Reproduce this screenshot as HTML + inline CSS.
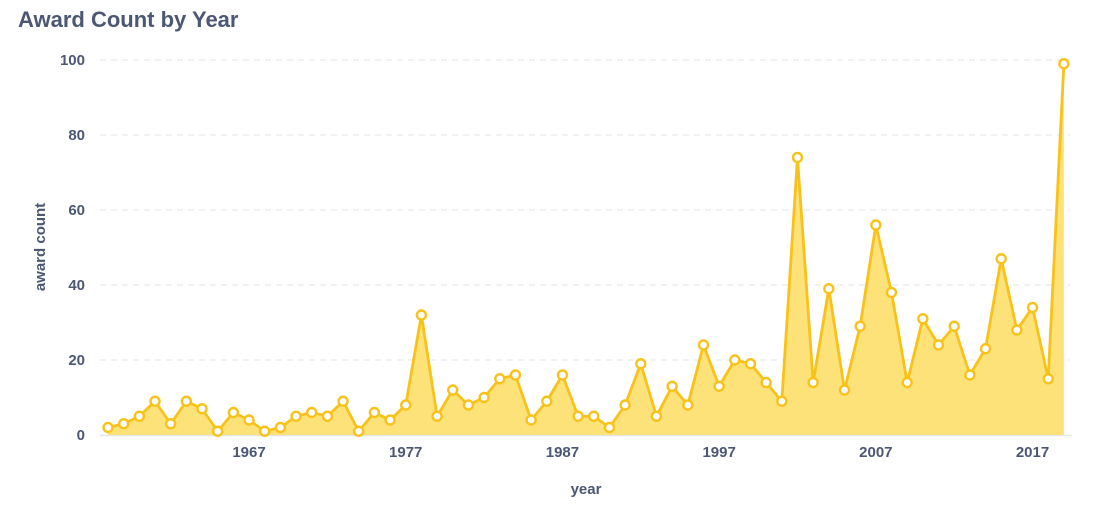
<!DOCTYPE html>
<html><head><meta charset="utf-8"><style>
body{margin:0;background:#fff;font-family:"Liberation Sans",sans-serif;}
svg text{font-family:"Liberation Sans",sans-serif;fill:#4c5773;font-weight:bold;}
</style></head><body>
<svg id="chart" width="1104" height="506">
<text x="18" y="27" font-size="22">Award Count by Year</text>
<g id="grid"></g><g id="area"></g><g id="pts"></g><g id="ticks"></g>
<text x="586" y="494" font-size="15" text-anchor="middle">year</text>
<text transform="translate(45,247) rotate(-90)" font-size="15" text-anchor="middle">award count</text>
</svg>
<script>
const years=[];for(let y=1958;y<=2019;y++)years.push(y);
const counts=[2,3,5,9,3,9,7,1,6,4,1,2,5,6,5,9,1,6,4,8,32,5,12,8,10,15,16,4,9,16,5,5,2,8,19,5,13,8,24,13,20,19,14,9,74,14,39,12,29,56,38,14,31,24,29,16,23,47,28,34,15,99];
const yTicks=[0,20,40,60,80,100];
const xTicks=[1967,1977,1987,1997,2007,2017];
const NS="http://www.w3.org/2000/svg";
const x=v=>108+(v-1958)*15.67;
const y=v=>435-v*3.75;
function mk(t,a,p){const e=document.createElementNS(NS,t);for(const k in a)e.setAttribute(k,a[k]);p.appendChild(e);return e;}
const grid=document.getElementById('grid'),ticks=document.getElementById('ticks');
yTicks.forEach(t=>{
 if(t>0){const l=mk('line',{x1:100,x2:1070,y1:y(t),y2:y(t),stroke:'#e3e5e8','stroke-dasharray':'6 5'},grid);
 
 }
 const tx=mk('text',{x:85,y:y(t)+5,'font-size':15,'text-anchor':'end'},ticks);tx.textContent=t;
 
 
});
const ax=mk('line',{x1:100,x2:1072,y1:435.5,y2:435.5,stroke:'#e3e5e8','stroke-width':1.5},grid);


xTicks.forEach(t=>{
 const tx=mk('text',{x:x(t),y:457,'font-size':15,'text-anchor':'middle'},ticks);tx.textContent=t;
 
 
});
let d='';years.forEach((yr,i)=>{d+=(i?'L':'M')+x(yr)+','+y(counts[i]);});
const area=mk('path',{d:d+'L'+x(years[years.length-1])+',435L'+x(years[0])+',435Z',fill:'#fde27a'},document.getElementById('area'));


const line=mk('path',{d:d,fill:'none',stroke:'#f9c21b','stroke-width':2.8,'stroke-linejoin':'round'},document.getElementById('area'));


years.forEach((yr,i)=>{
 const c=mk('circle',{cx:x(yr),cy:y(counts[i]),r:4.5,fill:'#fff',stroke:'#f9c21b','stroke-width':2.4},document.getElementById('pts'));
 
 
});
</script>
</body></html>
